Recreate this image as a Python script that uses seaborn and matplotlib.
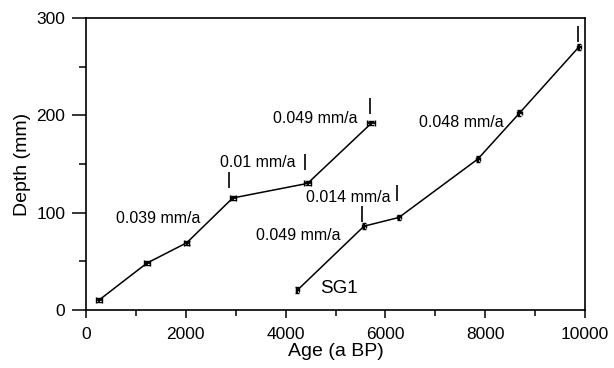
import numpy as np
import pandas as pd
import matplotlib
matplotlib.use("Agg")
import matplotlib.pyplot as plt
import seaborn as sns

# upper core profile
age_a = [260, 1220, 2020, 2940, 4440, 5720]
depth_a = [10, 48, 69, 115, 130, 192]
err_a = [60, 60, 50, 60, 70, 80]
# SG1 profile
age_b = [4230, 5570, 6270, 7850, 8680, 9870]
depth_b = [20, 86, 95, 155, 202, 270]
err_b = [30, 40, 40, 40, 50, 40]

# section boundary marks
mark_age = [2870, 4390, 5690, 5525, 6240, 9866]
mark_depth = [134, 152, 210, 99, 120, 284]

rate_labels = ["0.039 mm/a", "0.01 mm/a", "0.049 mm/a", "0.014 mm/a", "0.049 mm/a", "0.048 mm/a"]
rate_x = [1437, 3433, 4603, 5257, 4262, 7521]
rate_y = [94, 151, 197, 116, 76, 193]

sns.set_style("ticks")
plt.rcParams["font.family"] = ["Liberation Sans", "DejaVu Sans"]
plt.rcParams["text.color"] = "black"
plt.rcParams["axes.labelcolor"] = "black"

df = pd.concat([
    pd.DataFrame({"age": age_a, "depth": depth_a, "core": "A"}),
    pd.DataFrame({"age": age_b, "depth": depth_b, "core": "SG1"}),
])

fig = plt.figure(figsize=(6.14, 3.68), dpi=100)
ax = fig.add_axes([0.140, 0.158, 0.813, 0.793])
sns.lineplot(data=df, x="age", y="depth", units="core", estimator=None, sort=False,
             color="black", linewidth=1.1, ax=ax)
ax.errorbar(age_a, depth_a, xerr=err_a, yerr=2, fmt="none", ecolor="black",
            elinewidth=1.3, capsize=2.5)
ax.errorbar(age_b, depth_b, xerr=err_b, yerr=3, fmt="none", ecolor="black",
            elinewidth=1.6, capsize=1.5)
ax.plot(mark_age, mark_depth, ls="none", marker="|", markersize=11,
        markeredgewidth=1.2, color="black")

for t, x, y in zip(rate_labels, rate_x, rate_y):
    ax.text(x, y, t, ha="center", va="center", fontsize=11.5, color="black")
ax.text(5064, 22, "SG1", ha="center", va="center", fontsize=13.5, color="black")

ax.set_xlim(0, 10000)
ax.set_ylim(0, 300)
ax.set_xticks([0, 2000, 4000, 6000, 8000, 10000])
ax.set_xticks(np.arange(1000, 10000, 2000), minor=True)
ax.set_yticks([0, 100, 200, 300])
ax.set_yticks([50, 150, 250], minor=True)
ax.tick_params(which="both", direction="out", width=1.1, colors="black", labelsize=12.5)
ax.tick_params(axis="x", which="major", length=6, pad=6)
ax.tick_params(axis="x", which="minor", length=4)
ax.tick_params(axis="y", which="major", length=10, pad=5)
ax.tick_params(axis="y", which="minor", length=5)
for s in ax.spines.values():
    s.set_visible(True)
    s.set_linewidth(1.2)
    s.set_color("black")
ax.set_xlabel("Age (a BP)", fontsize=14, labelpad=1)
ax.set_ylabel("Depth (mm)", fontsize=14, labelpad=4)
fig.savefig("out.png", dpi=100)
